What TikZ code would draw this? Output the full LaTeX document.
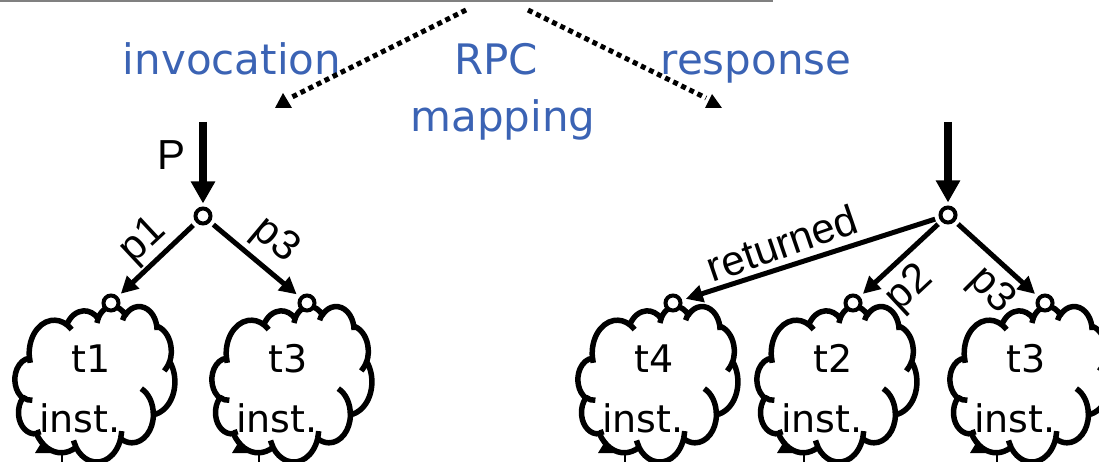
\documentclass[tikz,border=0pt]{standalone}
\usepackage{fontspec}
\setmainfont{DejaVu Sans}
\newfontfamily\arialf{Liberation Sans}
\usetikzlibrary{arrows.meta}

\definecolor{rpcblue}{RGB}{59,99,180}
\definecolor{rulegray}{RGB}{128,128,128}

\tikzset{
  declare function={ooa(\a,\w,\h)=atan2(sin(\a)/\h,cos(\a)/\w);},
  % elliptic arc given by radii, start angle and sweep (visual angles)
  ooarc/.style n args={4}{x radius=#1, y radius=#2,
    start angle={ooa(#3,#1,#2)},
    delta angle={mod(ooa(#3+#4,#1,#2)-ooa(#3,#1,#2)+720,360)}},
  bluetext/.style={text=rpcblue, font=\fontsize{42}{50}\selectfont, inner sep=0pt, anchor=base},
  instext/.style={font=\fontsize{38}{46}\selectfont, inner sep=0pt, anchor=base},
  edgelabel/.style={font=\arialf\fontsize{42}{50}\selectfont, inner sep=0pt},
  port/.style={circle, draw, fill=white, line width=4pt, minimum size=15pt, inner sep=0pt},
  flow/.style={line width=5pt, -{Triangle[length=17pt,width=17pt]}, shorten <=4pt, shorten >=4pt},
  mainflow/.style={line width=7.5pt, -{Triangle[length=22pt,width=23pt]}, shorten >=3pt},
  mapflow/.style={line width=5pt, dash pattern=on 5pt off 4pt},
}

% cloud outline with its inner creases; #1,#2 = top-left corner
\newcommand\instcloud[2]{%
  \begin{scope}[shift={(#1,#2)}, x=3.7pt, y=-3.6pt, line width=5.5pt, line join=round]
    \draw[fill=white] (3.9,14.37)
      arc[ooarc={6.753}{9.19}{-190.4875}{123.7805}]
      arc[ooarc={5.333}{7.267}{-144.1024}{89.9452}]
      arc[ooarc={4.365}{5.945}{-145.8079}{99.7230}]
      arc[ooarc={4.857}{6.595}{-130.9861}{117.2417}]
      arc[ooarc={5.333}{7.273}{-78.7089}{109.0269}]
      arc[ooarc={6.775}{9.22}{-46.2673}{130.2690}]
      arc[ooarc={5.785}{7.867}{0.6250}{114.0333}]
      arc[ooarc={6.752}{9.215}{22.4516}{115.1726}]
      arc[ooarc={7.72}{10.543}{66.2426}{75.7110}]
      arc[ooarc={4.36}{5.918}{-274.9421}{146.7356}]
      arc[ooarc={4.345}{5.945}{-246.8285}{152.5189}]
      -- cycle;
    \draw (4.693,26.177) arc[ooarc={4.345}{5.945}{86.7420}{26.4295}]
      (6.928,34.899) arc[ooarc={4.36}{5.918}{73.6105}{11.4475}]
      (16.478,39.09) arc[ooarc={6.752}{9.215}{137.6242}{14.0811}]
      (28.827,34.751) arc[ooarc={6.752}{9.215}{6.4533}{15.9984}]
      (34.129,22.954) arc[ooarc={5.785}{7.867}{-70.2924}{70.9174}]
      (41.798,15.354) arc[ooarc={5.333}{7.273}{30.3180}{27.7515}]
      (38.324,5.426) arc[ooarc={4.857}{6.595}{-13.7443}{14.8589}]
      (29.078,3.952) arc[ooarc={4.857}{6.595}{-149.1815}{18.1954}]
      (22.141,4.72) arc[ooarc={4.365}{5.945}{-163.4943}{17.6864}]
      (14,5.192) arc[ooarc={6.753}{9.19}{-66.7070}{12.3194}]
      (4.127,15.789) arc[ooarc={6.753}{9.19}{157.6544}{11.8582}];
  \end{scope}%
  % small tip and stem below the cloud
  \fill (#1+20,453) -- (#1+28,440) -- (#1+38,453) -- cycle;
  \draw[line width=2pt] (#1+47,452) -- (#1+47,470);
}

\begin{document}
\begin{tikzpicture}[x=1pt, y=-1pt]
  \useasboundingbox (0,0) rectangle (1099,462);
  \clip (0,0) rectangle (1099,462);

  % rule at the top
  \draw[rulegray, line width=2pt] (0,1) -- (773,1);

  % headings
  \node[bluetext] (inv) at (232,75) {invocation};
  \node[bluetext] (rpc) at (496,75) {RPC};
  \node[bluetext] (map) at (503,132) {mapping};
  \node[bluetext] (resp) at (756,75) {response};

  % mapping arrows
  \coordinate (ml0) at (466,10);
  \coordinate (ml1) at (290,98);
  \coordinate (mr0) at (528,10);
  \coordinate (mr1) at (706,98);
  \draw[mapflow] (ml0) -- (ml1);
  \draw[mapflow] (mr0) -- (mr1);
  \fill (275,108) -- (283,93) -- (292,108) -- cycle;
  \fill (705,108) -- (712,94) -- (722,108) -- cycle;

  % clouds
  \instcloud{15}{306}
  \instcloud{212}{306}
  \instcloud{578}{306}
  \instcloud{757}{306}
  \instcloud{950}{306}

  \node[instext] (n1) at (91,372) {t1};
  \node[instext] (i1) at (80,432) {inst.};
  \node[instext] (n2) at (288,372) {t3};
  \node[instext] (i2) at (277,432) {inst.};
  \node[instext] (n3) at (654,372) {t4};
  \node[instext] (i3) at (643,432) {inst.};
  \node[instext] (n4) at (833,372) {t2};
  \node[instext] (i4) at (822,432) {inst.};
  \node[instext] (n5) at (1026,372) {t3};
  \node[instext] (i5) at (1015,432) {inst.};

  % ports
  \node[port] (L) at (203,216) {};
  \node[port] (La) at (111,303) {};
  \node[port] (Lb) at (307,303) {};
  \node[port] (R) at (948,215) {};
  \node[port] (Ra) at (673,303) {};
  \node[port] (Rb) at (853,303) {};
  \node[port] (Rc) at (1045,303) {};

  % left tree
  \coordinate (Lin) at (203,122);
  \draw[mainflow] (Lin) -- (L);
  \node[edgelabel] (P) at (172,155) {P};
  \draw[flow] (L) -- (La);
  \draw[flow] (L) -- (Lb);
  \node[edgelabel, rotate=43] (p1) at (144,241) {p1};
  \node[edgelabel, rotate=-40] (p3l) at (275,241) {p3};

  % right tree
  \coordinate (Rin) at (948,122);
  \draw[mainflow] (Rin) -- (R);
  \draw[flow] (R) -- (Ra);
  \draw[flow] (R) -- (Rb);
  \draw[flow] (R) -- (Rc);
  \node[edgelabel, rotate=19] (ret) at (782,243) {returned};
  \node[edgelabel, rotate=43] (p2) at (910,289) {p2};
  \node[edgelabel, rotate=-45] (p3r) at (991,291) {p3};
\end{tikzpicture}
\end{document}
